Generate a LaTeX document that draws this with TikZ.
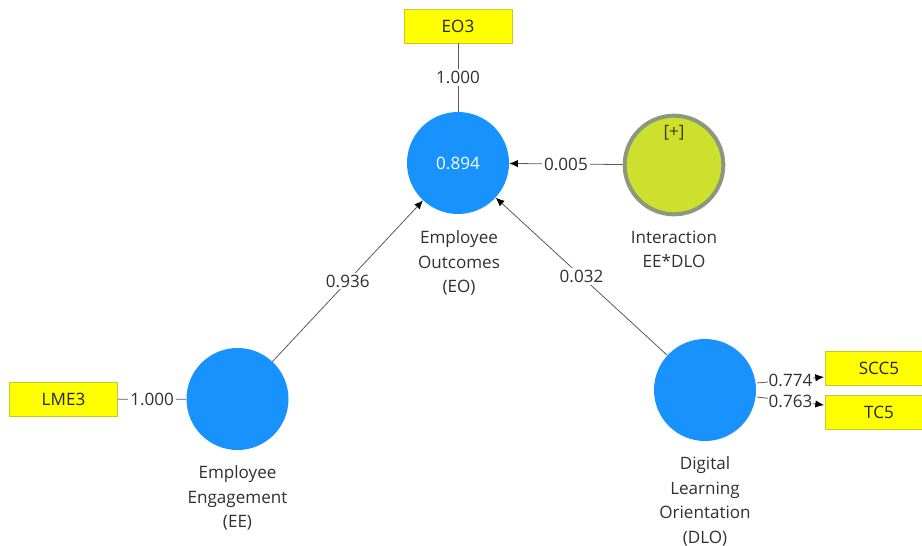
\documentclass[tikz,border=0pt]{standalone}
\usepackage{fontspec}
\setmainfont{Open Sans}
\usetikzlibrary{arrows.meta}
\definecolor{lvblue}{RGB}{24,146,252}
\definecolor{indyellow}{RGB}{255,255,0}
\definecolor{indborder}{RGB}{200,200,40}
\definecolor{intfill}{RGB}{205,224,46}
\definecolor{intborder}{RGB}{138,152,128}
\definecolor{txtgray}{RGB}{48,48,48}
\definecolor{linegray}{RGB}{90,90,90}
\definecolor{plusbrown}{RGB}{80,50,20}
\tikzset{
  latent/.style={circle, fill=lvblue, minimum size=76.5pt, inner sep=0pt, text=white},
  interact/.style={circle, fill=intfill, draw=intborder, line width=3pt, minimum size=74pt, inner sep=0pt},
  indbox/.style={rectangle, fill=indyellow, draw=indborder, line width=0.6pt, minimum width=81pt, minimum height=25.5pt, inner sep=0pt, text=black!85},
  caption/.style={align=center, text=txtgray, anchor=north},
  wlabel/.style={fill=white, inner sep=1.5pt, text=txtgray},
  conn/.style={draw=linegray, line width=0.6pt},
  arr/.style={-{Latex[length=6.5pt,width=5.5pt,color=black]}}
}
\begin{document}
\begin{tikzpicture}[x=0.75pt, y=-0.75pt, font=\fontsize{12.8}{18.4}\selectfont]
\useasboundingbox (0,0) rectangle (922,546);
% latent variables
\node[latent] (eo) at (458,163) {0.894};
\node[latent] (ee) at (237.5,399) {};
\node[latent] (dlo) at (705,390) {};
\node[interact] (int) at (674,165) {};
\node[text=plusbrown] (plus) at (674,133) {[+]};
% indicators
\node[indbox] (eo3) at (458,26) {EO3};
\node[indbox] (lme3) at (63.5,399.5) {LME3};
\node[indbox] (scc5) at (879,368.5) {SCC5};
\node[indbox] (tc5) at (879,412) {TC5};
% captions
\node[caption] (capeo) at (459,226) {Employee\\Outcomes\\(EO)};
\node[caption] (capint) at (674,226) {Interaction\\EE*DLO};
\node[caption] (capee) at (237.5,461) {Employee\\Engagement\\(EE)};
\node[caption] (capdlo) at (705,452) {Digital\\Learning\\Orientation\\(DLO)};
% connectors
\draw[conn] (eo3) -- node[wlabel] {1.000} (eo);
\draw[conn] (lme3) -- node[wlabel] {1.000} (ee);
\draw[conn, arr] (int) -- node[wlabel] {0.005} (eo);
\draw[conn, arr] (ee) -- node[wlabel] {0.936} (eo);
\draw[conn, arr] (dlo) -- node[wlabel] {0.032} (eo);
\coordinate (s1) at (757,383);
\coordinate (e1) at (824,377);
\coordinate (s2) at (757,397);
\coordinate (e2) at (824,405);
\draw[conn, arr] (s1) -- node[wlabel, inner sep=0.8pt] {0.774} (e1);
\draw[conn, arr] (s2) -- node[wlabel, inner sep=0.8pt] {0.763} (e2);
\end{tikzpicture}
\end{document}
